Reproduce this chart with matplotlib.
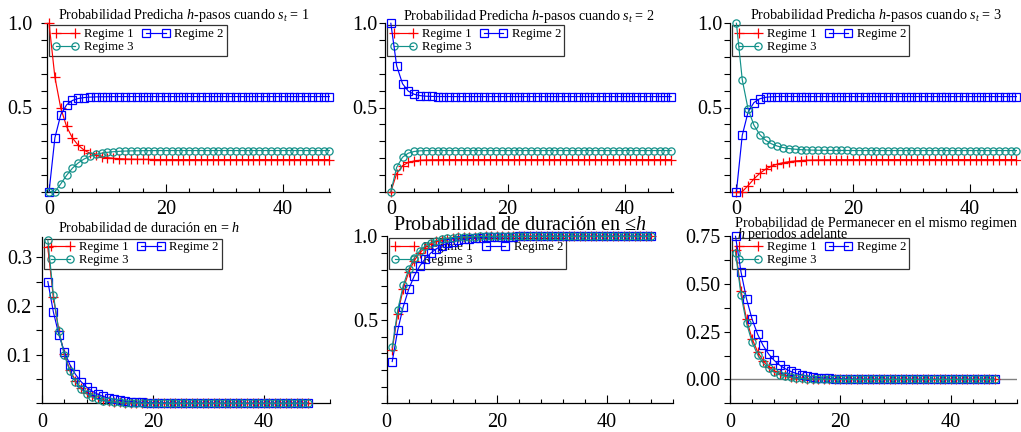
import matplotlib
matplotlib.use('Agg')
import matplotlib.pyplot as plt
import numpy as np
from matplotlib.ticker import FixedLocator, MultipleLocator, NullFormatter, FormatStrFormatter

plt.rcParams['font.family'] = ['Liberation Serif', 'DejaVu Serif']
plt.rcParams['mathtext.fontset'] = 'custom'
plt.rcParams['mathtext.rm'] = 'Liberation Serif'
plt.rcParams['mathtext.it'] = 'Liberation Serif:italic'

# ---------------- data ----------------
h_top = list(range(0, 49))
h_bot = list(range(1, 49))
labels = ['Regime 1', 'Regime 2', 'Regime 3']

# predicted h-step probabilities, s_t = 1
s1_r1 = [1.0, 0.6800, 0.4970, 0.3873, 0.3191, 0.2755, 0.2471, 0.2284, 0.2160, 0.2077,
         0.2021, 0.1984, 0.1959, 0.1942, 0.1931, 0.1923, 0.1918, 0.1914, 0.1912, 0.1910,
         0.1909, 0.1908, 0.1907, 0.1907, 0.1906, 0.1906, 0.1906, 0.1906, 0.1906, 0.1906,
         0.1906, 0.1906, 0.1906, 0.1906, 0.1906, 0.1906, 0.1906, 0.1906, 0.1906, 0.1906,
         0.1906, 0.1906, 0.1906, 0.1906, 0.1906, 0.1906, 0.1906, 0.1906, 0.1906]
s1_r2 = [0.0, 0.3200, 0.4566, 0.5157, 0.5417, 0.5535, 0.5590, 0.5617, 0.5631, 0.5639,
         0.5643, 0.5646, 0.5648, 0.5649, 0.5649, 0.5649, 0.5649, 0.5649, 0.5649, 0.5649,
         0.5649, 0.5649, 0.5649, 0.5649, 0.5649, 0.5649, 0.5649, 0.5649, 0.5649, 0.5649,
         0.5649, 0.5649, 0.5649, 0.5649, 0.5649, 0.5649, 0.5649, 0.5649, 0.5649, 0.5649,
         0.5649, 0.5649, 0.5649, 0.5649, 0.5649, 0.5649, 0.5649, 0.5649, 0.5649]
s1_r3 = [0.0, 0.0, 0.0464, 0.0971, 0.1394, 0.1712, 0.1941, 0.2101, 0.2212, 0.2288,
         0.2339, 0.2374, 0.2397, 0.2413, 0.2424, 0.2431, 0.2436, 0.2439, 0.2441, 0.2443,
         0.2444, 0.2444, 0.2445, 0.2445, 0.2445, 0.2445, 0.2445, 0.2445, 0.2445, 0.2445,
         0.2445, 0.2445, 0.2445, 0.2445, 0.2445, 0.2445, 0.2445, 0.2445, 0.2445, 0.2445,
         0.2445, 0.2445, 0.2445, 0.2445, 0.2445, 0.2445, 0.2445, 0.2445, 0.2445]

# s_t = 2
s2_r1 = [0.0, 0.1080, 0.1541, 0.1740, 0.1828, 0.1868, 0.1886, 0.1895, 0.1900, 0.1903,
         0.1904, 0.1905, 0.1906, 0.1906, 0.1906, 0.1906, 0.1906, 0.1906, 0.1906, 0.1906,
         0.1906, 0.1906, 0.1906, 0.1906, 0.1906, 0.1906, 0.1906, 0.1906, 0.1906, 0.1906,
         0.1906, 0.1906, 0.1906, 0.1906, 0.1906, 0.1906, 0.1906, 0.1906, 0.1906, 0.1906,
         0.1906, 0.1906, 0.1906, 0.1906, 0.1906, 0.1906, 0.1906, 0.1906, 0.1906]
s2_r2 = [1.0, 0.7470, 0.6412, 0.5969, 0.5783, 0.5705, 0.5672, 0.5658, 0.5653, 0.5651,
         0.5650, 0.5649, 0.5649, 0.5649, 0.5649, 0.5649, 0.5649, 0.5649, 0.5649, 0.5649,
         0.5649, 0.5649, 0.5649, 0.5649, 0.5649, 0.5649, 0.5649, 0.5649, 0.5649, 0.5649,
         0.5649, 0.5649, 0.5649, 0.5649, 0.5649, 0.5649, 0.5649, 0.5649, 0.5649, 0.5649,
         0.5649, 0.5649, 0.5649, 0.5649, 0.5649, 0.5649, 0.5649, 0.5649, 0.5649]
s2_r3 = [0.0, 0.1450, 0.2047, 0.2291, 0.2389, 0.2427, 0.2441, 0.2446, 0.2446, 0.2446,
         0.2445, 0.2445, 0.2445, 0.2445, 0.2445, 0.2445, 0.2445, 0.2445, 0.2445, 0.2445,
         0.2445, 0.2445, 0.2445, 0.2445, 0.2445, 0.2445, 0.2445, 0.2445, 0.2445, 0.2445,
         0.2445, 0.2445, 0.2445, 0.2445, 0.2445, 0.2445, 0.2445, 0.2445, 0.2445, 0.2445,
         0.2445, 0.2445, 0.2445, 0.2445, 0.2445, 0.2445, 0.2445, 0.2445, 0.2445]

# s_t = 3
s3_r1 = [0.0, 0.0, 0.0362, 0.0757, 0.1086, 0.1335, 0.1513, 0.1638, 0.1724, 0.1783,
         0.1823, 0.1850, 0.1868, 0.1880, 0.1888, 0.1894, 0.1898, 0.1900, 0.1902, 0.1903,
         0.1904, 0.1905, 0.1905, 0.1906, 0.1906, 0.1906, 0.1906, 0.1906, 0.1906, 0.1906,
         0.1906, 0.1906, 0.1906, 0.1906, 0.1906, 0.1906, 0.1906, 0.1906, 0.1906, 0.1906,
         0.1906, 0.1906, 0.1906, 0.1906, 0.1906, 0.1906, 0.1906, 0.1906, 0.1906]
s3_r2 = [0.0, 0.3350, 0.4730, 0.5293, 0.5519, 0.5607, 0.5640, 0.5651, 0.5653, 0.5653,
         0.5652, 0.5651, 0.5650, 0.5649, 0.5649, 0.5649, 0.5649, 0.5649, 0.5649, 0.5649,
         0.5649, 0.5649, 0.5649, 0.5649, 0.5649, 0.5649, 0.5649, 0.5649, 0.5649, 0.5649,
         0.5649, 0.5649, 0.5649, 0.5649, 0.5649, 0.5649, 0.5649, 0.5649, 0.5649, 0.5649,
         0.5649, 0.5649, 0.5649, 0.5649, 0.5649, 0.5649, 0.5649, 0.5649, 0.5649]
s3_r3 = [1.0, 0.6650, 0.4908, 0.3950, 0.3394, 0.3057, 0.2846, 0.2710, 0.2622, 0.2563,
         0.2524, 0.2498, 0.2480, 0.2469, 0.2461, 0.2456, 0.2452, 0.2450, 0.2448, 0.2447,
         0.2446, 0.2445, 0.2445, 0.2445, 0.2445, 0.2445, 0.2445, 0.2445, 0.2445, 0.2445,
         0.2445, 0.2445, 0.2445, 0.2445, 0.2445, 0.2445, 0.2445, 0.2445, 0.2445, 0.2445,
         0.2445, 0.2445, 0.2445, 0.2445, 0.2445, 0.2445, 0.2445, 0.2445, 0.2445]

# probability of duration = h
dur_r1 = [0.3200, 0.2176, 0.1480, 0.1006, 0.0684, 0.0465, 0.0316, 0.0215, 0.0146, 0.0099,
          0.0068, 0.0046, 0.0031, 0.0021, 0.0015, 0.0010, 0.0007, 0.0005, 0.0003, 0.0002,
          0.0001, 0.0001, 0.0001, 0.0, 0.0, 0.0, 0.0, 0.0, 0.0, 0.0,
          0.0, 0.0, 0.0, 0.0, 0.0, 0.0, 0.0, 0.0, 0.0, 0.0,
          0.0, 0.0, 0.0, 0.0, 0.0, 0.0, 0.0, 0.0]
dur_r2 = [0.2500, 0.1875, 0.1406, 0.1055, 0.0791, 0.0593, 0.0445, 0.0334, 0.0250, 0.0188,
          0.0141, 0.0106, 0.0079, 0.0059, 0.0045, 0.0033, 0.0025, 0.0019, 0.0014, 0.0011,
          0.0008, 0.0006, 0.0004, 0.0003, 0.0003, 0.0002, 0.0001, 0.0001, 0.0001, 0.0001,
          0.0, 0.0, 0.0, 0.0, 0.0, 0.0, 0.0, 0.0, 0.0, 0.0,
          0.0, 0.0, 0.0, 0.0, 0.0, 0.0, 0.0, 0.0]
dur_r3 = [0.3350, 0.2228, 0.1482, 0.0985, 0.0655, 0.0436, 0.0290, 0.0193, 0.0128, 0.0085,
          0.0057, 0.0038, 0.0025, 0.0017, 0.0011, 0.0007, 0.0005, 0.0003, 0.0002, 0.0001,
          0.0001, 0.0, 0.0, 0.0, 0.0, 0.0, 0.0, 0.0, 0.0, 0.0,
          0.0, 0.0, 0.0, 0.0, 0.0, 0.0, 0.0, 0.0, 0.0, 0.0,
          0.0, 0.0, 0.0, 0.0, 0.0, 0.0, 0.0, 0.0]

# probability of duration <= h
cum_r1 = [0.3200, 0.5376, 0.6856, 0.7862, 0.8546, 0.9011, 0.9328, 0.9543, 0.9689, 0.9789,
          0.9856, 0.9902, 0.9934, 0.9955, 0.9969, 0.9979, 0.9986, 0.9990, 0.9993, 0.9995,
          0.9997, 0.9998, 0.9999, 0.9999, 0.9999, 1.0, 1.0, 1.0, 1.0, 1.0,
          1.0, 1.0, 1.0, 1.0, 1.0, 1.0, 1.0, 1.0, 1.0, 1.0,
          1.0, 1.0, 1.0, 1.0, 1.0, 1.0, 1.0, 1.0]
cum_r2 = [0.2500, 0.4375, 0.5781, 0.6836, 0.7627, 0.8220, 0.8665, 0.8999, 0.9249, 0.9437,
          0.9578, 0.9683, 0.9762, 0.9822, 0.9866, 0.9900, 0.9925, 0.9944, 0.9958, 0.9968,
          0.9976, 0.9982, 0.9987, 0.9990, 0.9992, 0.9994, 0.9996, 0.9997, 0.9998, 0.9998,
          0.9999, 0.9999, 1.0, 1.0, 1.0, 1.0, 1.0, 1.0, 1.0, 1.0,
          1.0, 1.0, 1.0, 1.0, 1.0, 1.0, 1.0, 1.0]
cum_r3 = [0.3350, 0.5578, 0.7059, 0.8044, 0.8700, 0.9135, 0.9425, 0.9618, 0.9746, 0.9831,
          0.9888, 0.9925, 0.9950, 0.9967, 0.9978, 0.9985, 0.9990, 0.9994, 0.9996, 0.9997,
          0.9998, 0.9999, 0.9999, 1.0, 1.0, 1.0, 1.0, 1.0, 1.0, 1.0,
          1.0, 1.0, 1.0, 1.0, 1.0, 1.0, 1.0, 1.0, 1.0, 1.0,
          1.0, 1.0, 1.0, 1.0, 1.0, 1.0, 1.0, 1.0]

# probability of staying in the same regime h periods ahead
stay_r1 = [0.6800, 0.4624, 0.3144, 0.2138, 0.1454, 0.0989, 0.0672, 0.0457, 0.0311, 0.0211,
           0.0144, 0.0098, 0.0066, 0.0045, 0.0031, 0.0021, 0.0014, 0.0010, 0.0007, 0.0005,
           0.0003, 0.0002, 0.0001, 0.0001, 0.0001, 0.0, 0.0, 0.0, 0.0, 0.0,
           0.0, 0.0, 0.0, 0.0, 0.0, 0.0, 0.0, 0.0, 0.0, 0.0,
           0.0, 0.0, 0.0, 0.0, 0.0, 0.0, 0.0, 0.0]
stay_r2 = [0.7500, 0.5625, 0.4219, 0.3164, 0.2373, 0.1780, 0.1335, 0.1001, 0.0751, 0.0563,
           0.0422, 0.0317, 0.0238, 0.0178, 0.0134, 0.0100, 0.0075, 0.0056, 0.0042, 0.0032,
           0.0024, 0.0018, 0.0013, 0.0010, 0.0008, 0.0006, 0.0004, 0.0003, 0.0002, 0.0002,
           0.0001, 0.0001, 0.0, 0.0, 0.0, 0.0, 0.0, 0.0, 0.0, 0.0,
           0.0, 0.0, 0.0, 0.0, 0.0, 0.0, 0.0, 0.0]
stay_r3 = [0.6650, 0.4422, 0.2941, 0.1956, 0.1300, 0.0865, 0.0575, 0.0382, 0.0254, 0.0169,
           0.0112, 0.0075, 0.0050, 0.0033, 0.0022, 0.0015, 0.0010, 0.0006, 0.0004, 0.0003,
           0.0002, 0.0001, 0.0001, 0.0, 0.0, 0.0, 0.0, 0.0, 0.0, 0.0,
           0.0, 0.0, 0.0, 0.0, 0.0, 0.0, 0.0, 0.0, 0.0, 0.0,
           0.0, 0.0, 0.0, 0.0, 0.0, 0.0, 0.0, 0.0]

# ---------------- style ----------------
RED = '#ff0000'
BLUE = '#0000ff'
TEAL = '#13918a'
W, H = 1021, 432
fig = plt.figure(figsize=(W / 100, H / 100), dpi=100)
fig.patch.set_facecolor('white')


def add_axes(l, r, t, b):
    return fig.add_axes([l / W, 1 - b / H, (r - l) / W, (b - t) / H])


def draw(ax, x, ys):
    l1, = ax.plot(x, ys[0], color=RED, lw=0.85, marker='+', ms=6.5, mew=0.9, clip_on=False, zorder=3)
    l2, = ax.plot(x, ys[1], color=BLUE, lw=0.85, marker='s', ms=5.2, mew=0.9, mfc='none', clip_on=False, zorder=3)
    l3, = ax.plot(x, ys[2], color=TEAL, lw=0.85, marker='o', ms=5.2, mew=0.9, mfc='none', clip_on=False, zorder=3)
    leg = ax.legend([l1, l3, l2], [labels[0], labels[2], labels[1]], ncol=2, loc='upper left',
                    fontsize=9.2, frameon=True, fancybox=False, edgecolor='black', facecolor='none',
                    borderaxespad=0.15, borderpad=0.22, labelspacing=0.08, handlelength=2.1,
                    handletextpad=0.4, columnspacing=0.7, numpoints=2)
    leg.get_frame().set_linewidth(0.9)
    leg.set_zorder(1)


def style(ax, xlim, ylim, ymajor, yminor, ylabpad, xlabpad, fmt):
    ax.set_xlim(*xlim)
    ax.set_ylim(*ylim)
    for s in ('top', 'right'):
        ax.spines[s].set_visible(False)
    for s in ('left', 'bottom'):
        ax.spines[s].set_linewidth(0.9)
        ax.spines[s].set_color('black')
    ax.xaxis.set_major_locator(FixedLocator([0, 20, 40]))
    ax.xaxis.set_minor_locator(MultipleLocator(4))
    ax.yaxis.set_major_locator(FixedLocator(ymajor))
    ax.yaxis.set_minor_locator(MultipleLocator(yminor))
    ax.yaxis.set_major_formatter(FormatStrFormatter(fmt))
    ax.tick_params(axis='y', which='both', direction='out', length=4.5, width=0.8,
                   labelsize=14.5, pad=ylabpad)
    ax.tick_params(axis='x', which='major', direction='in', length=6, width=0.8,
                   labelsize=14.5, pad=xlabpad)
    ax.tick_params(axis='x', which='minor', direction='in', length=3, width=0.8)
    ax.patch.set_alpha(0)


# top row
ax1 = add_axes(47.3, 330, 23.3, 191.7)
ax2 = add_axes(385, 673, 23.3, 191.7)
ax3 = add_axes(730, 1017, 23.3, 191.7)
# bottom row
ax4 = add_axes(42.3, 330, 236.7, 403.3)
ax5 = add_axes(386.7, 673.3, 236.3, 403.3)
ax6 = add_axes(730, 1016.7, 236.3, 403.3)

draw(ax1, h_top, [s1_r1, s1_r2, s1_r3])
draw(ax2, h_top, [s2_r1, s2_r2, s2_r3])
draw(ax3, h_top, [s3_r1, s3_r2, s3_r3])
draw(ax4, h_bot, [dur_r1, dur_r2, dur_r3])
draw(ax5, h_bot, [cum_r1, cum_r2, cum_r3])
ax6.axhline(0, color='#808080', lw=1.0, zorder=0.5)
draw(ax6, h_bot, [stay_r1, stay_r2, stay_r3])

style(ax1, (-0.3, 48.1), (0, 1.0), [0.5, 1.0], 0.1, 6.2, 6.2, '%.1f')
style(ax2, (-1.0, 48.3), (0, 1.0), [0.5, 1.0], 0.1, 0.8, 6.2, '%.1f')
style(ax3, (-1.1, 48.1), (0, 1.0), [0.5, 1.0], 0.1, 1.0, 6.2, '%.1f')
style(ax4, (0, 52), (0, 0.342), [0.1, 0.2, 0.3], 0.05, 3.0, 6.8, '%.1f')
style(ax5, (0, 52), (0, 1.0), [0.5, 1.0], 0.1, 1.8, 6.8, '%.1f')
style(ax6, (0, 52), (-0.125, 0.75), [0.0, 0.25, 0.5, 0.75], 0.125, 2.5, 6.8, '%.2f')

# titles (pixel positions, baseline)
def ftext(x, y, s, size):
    fig.text(x / W, 1 - y / H, s, fontsize=size, ha='left', va='baseline', zorder=0)

ftext(58.3, 19, 'Probabilidad Predicha $h$-pasos cuando $s_t$ = 1', 10.2)
ftext(403.3, 20, 'Probabilidad Predicha $h$-pasos cuando $s_t$ = 2', 10.2)
ftext(750, 19.5, 'Probabilidad Predicha $h$-pasos cuando $s_t$ = 3', 10.2)
ftext(58.3, 232.5, 'Probabilidad de duración en = $h$', 10.2)
ftext(393.3, 230.5, 'Probabilidad de duración en \u2264$h$', 14.5)
ftext(735, 226.5, 'Probabilidad de Permanecer en el mismo regimen', 10.2)
ftext(737, 238, '$h$ periodos adelante', 10.2)

fig.savefig('out.png', dpi=100)
